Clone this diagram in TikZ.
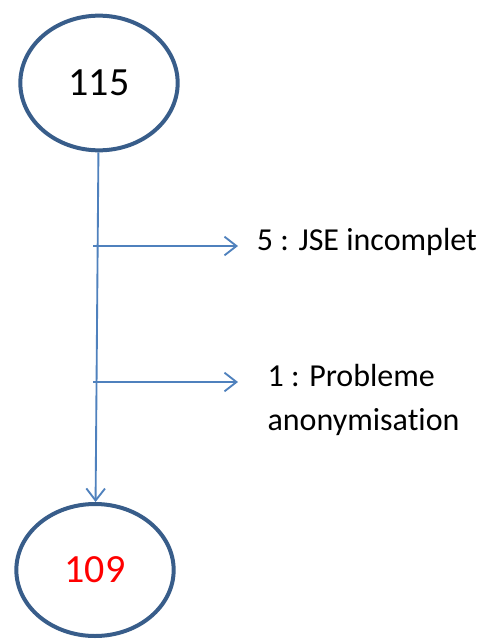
\documentclass[tikz,border=0pt]{standalone}
\usepackage{fontspec}
\setmainfont[Ligatures=NoCommon]{Carlito}
\usetikzlibrary{arrows.meta,shapes,positioning}
\definecolor{ringblue}{RGB}{56,93,138}
\definecolor{flowblue}{RGB}{79,129,189}

\begin{document}
\begin{tikzpicture}[x=0.75pt, y=-0.75pt,
                        count/.style = {ellipse, draw = ringblue, line width = 3pt, inner sep = 0pt,
                        minimum width = 118pt, font = \fontsize{30}{36}\selectfont},
                        flow/.style = {color = flowblue, line width = 1.4pt,
                        -{Straight Barb[length = 9pt, width = 14pt, line width = 1.4pt]}},
                        reason/.style = {anchor = west, inner ysep = 0pt, align = left,
                        font = \fontsize{24}{33}\selectfont}]
        \useasboundingbox (0,0) rectangle (480,639);
        %counts
        \node[count, minimum height = 101pt] (n115) at (99,83) {115};
        \node[count, minimum height = 99pt, text = red] (n109) at (95,570) {109};
        %main flow
        \draw[flow] (n115) -- (n109);
        %branches
        \coordinate (b1) at (93,246);
        \coordinate (b2) at (93,382);
        \node[reason, inner xsep = 14pt] (lblJSE) at (238,242) {5 : JSE incomplet};
        \node[reason, inner xsep = 22pt] (lblAnon) at (238,400) {1 : Probleme\\anonymisation};
        \draw[flow] (b1) -- (b1 -| lblJSE.west);
        \draw[flow] (b2) -- (b2 -| lblAnon.west);
    \end{tikzpicture}
\end{document}
